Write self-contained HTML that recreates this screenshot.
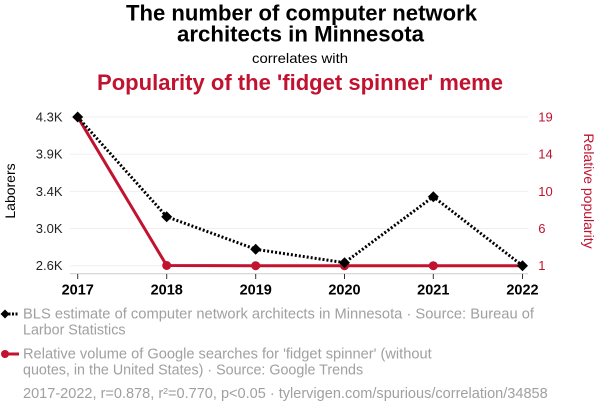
<!DOCTYPE html>
<html><head><meta charset="utf-8"><style>
html,body{margin:0;padding:0;background:#fff;}
svg{display:block;font-family:"Liberation Sans",Arial,sans-serif;}
</style></head><body>
<svg width="600" height="414" viewBox="0 0 600 414" xmlns="http://www.w3.org/2000/svg">
<!-- Titles -->
<text x="301.5" y="20.7" text-anchor="middle" font-size="22" font-weight="bold" fill="#000" textLength="351" lengthAdjust="spacingAndGlyphs">The number of computer network</text>
<text x="300.5" y="41.7" text-anchor="middle" font-size="22" font-weight="bold" fill="#000" textLength="247" lengthAdjust="spacingAndGlyphs">architects in Minnesota</text>
<text x="300" y="63" text-anchor="middle" font-size="14" fill="#000" textLength="96" lengthAdjust="spacingAndGlyphs">correlates with</text>
<text x="300" y="90" text-anchor="middle" font-size="22" font-weight="bold" fill="#c1122f" textLength="406" lengthAdjust="spacingAndGlyphs">Popularity of the 'fidget spinner' meme</text>

<!-- gridlines -->
<g stroke="#efefef" stroke-width="1">
<line x1="70" y1="117" x2="528" y2="117"/>
<line x1="70" y1="154.2" x2="528" y2="154.2"/>
<line x1="70" y1="191.4" x2="528" y2="191.4"/>
<line x1="70" y1="228.5" x2="528" y2="228.5"/>
<line x1="70" y1="265.7" x2="528" y2="265.7"/>
</g>
<!-- x axis -->
<line x1="70" y1="273.7" x2="528" y2="273.7" stroke="#ccc" stroke-width="1"/>
<g stroke="#333" stroke-width="1">
<line x1="77.7" y1="274" x2="77.7" y2="279"/>
<line x1="166.7" y1="274" x2="166.7" y2="279"/>
<line x1="255.7" y1="274" x2="255.7" y2="279"/>
<line x1="344.5" y1="274" x2="344.5" y2="279"/>
<line x1="433.3" y1="274" x2="433.3" y2="279"/>
<line x1="522.5" y1="274" x2="522.5" y2="279"/>
</g>
<g font-size="14.5" font-weight="bold" fill="#000" text-anchor="middle">
<text x="77.7" y="294.3">2017</text>
<text x="166.7" y="294.3">2018</text>
<text x="255.7" y="294.3">2019</text>
<text x="344.5" y="294.3">2020</text>
<text x="433.3" y="294.3">2021</text>
<text x="522.5" y="294.3">2022</text>
</g>
<!-- left axis labels -->
<g font-size="13" fill="#222" text-anchor="end">
<text x="62.5" y="121.5">4.3K</text>
<text x="62.5" y="158.7">3.9K</text>
<text x="62.5" y="195.9">3.4K</text>
<text x="62.5" y="233">3.0K</text>
<text x="62.5" y="270.2">2.6K</text>
</g>
<!-- right axis labels -->
<g font-size="13" fill="#c1122f" text-anchor="start">
<text x="538.3" y="121.5">19</text>
<text x="538.3" y="158.7">14</text>
<text x="538.3" y="195.9">10</text>
<text x="538.3" y="233">6</text>
<text x="538.3" y="270.2">1</text>
</g>
<text transform="translate(15,191) rotate(-90)" text-anchor="middle" font-size="14" fill="#000">Laborers</text>
<text transform="translate(584,191) rotate(90)" text-anchor="middle" font-size="14" fill="#c1122f">Relative popularity</text>

<!-- red series -->
<polyline points="77.7,117 166.7,265.5 255.7,265.7 344.5,265.7 433.3,265.7 522.5,265.7" fill="none" stroke="#c1122f" stroke-width="3" stroke-linejoin="round"/>
<g fill="#c1122f">
<circle cx="166.7" cy="265.5" r="4.5"/>
<circle cx="255.7" cy="265.7" r="4.5"/>
<circle cx="344.5" cy="265.7" r="4.5"/>
<circle cx="433.3" cy="265.7" r="4.5"/>
</g>
<!-- black series -->
<polyline points="77.7,117 166.7,216.7 255.7,249.3 344.5,262.7 433.3,196.7 522.5,265.7" fill="none" stroke="#000" stroke-width="3" stroke-dasharray="2,2"/>
<g fill="#000">
<polygon points="77.7,111.5 83.2,117 77.7,122.5 72.2,117"/>
<polygon points="166.7,211.2 172.2,216.7 166.7,222.2 161.2,216.7"/>
<polygon points="255.7,243.8 261.2,249.3 255.7,254.8 250.2,249.3"/>
<polygon points="344.5,257.2 350,262.7 344.5,268.2 339,262.7"/>
<polygon points="433.3,191.2 438.8,196.7 433.3,202.2 427.8,196.7"/>
<polygon points="522.5,260.2 528,265.7 522.5,271.2 517,265.7"/>
</g>

<!-- legend -->
<line x1="5" y1="314" x2="19" y2="314" stroke="#000" stroke-width="3" stroke-dasharray="2,1.5"/>
<polygon points="5,309.5 9.5,314 5,318.5 0.5,314" fill="#000"/>
<line x1="5" y1="354" x2="19" y2="354" stroke="#c1122f" stroke-width="3"/>
<circle cx="5" cy="354" r="4" fill="#c1122f"/>
<g font-size="14.3" fill="#a0a0a0">
<text x="23" y="318.5" textLength="511" lengthAdjust="spacingAndGlyphs">BLS estimate of computer network architects in Minnesota · Source: Bureau of</text>
<text x="23" y="334.5">Larbor Statistics</text>
<text x="23" y="358.5" textLength="408.7" lengthAdjust="spacingAndGlyphs">Relative volume of Google searches for 'fidget spinner' (without</text>
<text x="23" y="374.5">quotes, in the United States) · Source: Google Trends</text>
<text x="23" y="398" textLength="524.7" lengthAdjust="spacingAndGlyphs">2017-2022, r=0.878, r²=0.770, p&lt;0.05 · tylervigen.com/spurious/correlation/34858</text>
</g>
</svg>
</body></html>
